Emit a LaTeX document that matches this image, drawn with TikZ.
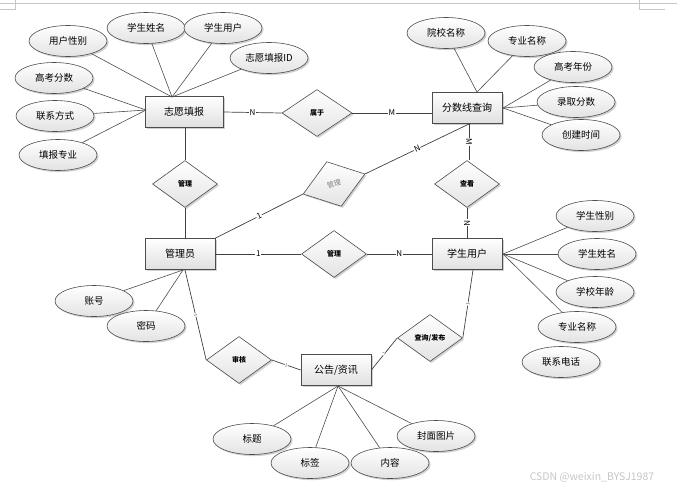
\documentclass[tikz,border=0pt]{standalone}
\usepackage{fontspec}
\setmainfont{Noto Sans CJK SC}
\usetikzlibrary{shapes.geometric,shadows,calc}
\tikzset{
  shd/.style={drop shadow={shadow xshift=1.6pt, shadow yshift=-1.6pt, fill=gray!45, opacity=0.8}},
  ent/.style={rectangle, draw=gray!60!black, line width=0.7pt, top color=white, bottom color=gray!25,
    minimum width=70pt, minimum height=31pt, inner sep=0pt, font=\fontsize{10}{12}\selectfont, shd},
  attr/.style={ellipse, draw=gray!60!black, line width=0.6pt, top color=white, bottom color=gray!22,
    minimum width=78pt, minimum height=31pt, inner sep=0pt, font=\fontsize{9.5}{11}\selectfont, shd},
  rel/.style={diamond, draw=gray!60!black, line width=0.6pt, top color=white, bottom color=gray!22,
    minimum width=65pt, minimum height=47pt, inner sep=0pt, font=\fontsize{7}{8}\selectfont\bfseries, shd},
  ln/.style={draw=black!75, line width=0.7pt},
  aln/.style={draw=black!70, line width=0.6pt},
  lbl/.style={fill=white, inner sep=0.6pt, font=\fontsize{8}{9}\selectfont},
  tiny/.style={fill=white, inner sep=0.3pt, font=\fontsize{4.5}{5}\selectfont, text=gray!70!black},
  page/.style={draw=gray!45, line width=0.6pt}
}
\begin{document}
\begin{tikzpicture}[x=1pt,y=-1pt]
\useasboundingbox (0,0) rectangle (677,490);
% page marks
\draw[draw=gray!45, line width=1.6pt] (0,3.5) -- (677,3.5);
\coordinate (pl1) at (15,0); \coordinate (pl2) at (15,9); \coordinate (pl3) at (0,9);
\draw[page] (pl1) -- (pl2) -- (pl3);
\coordinate (pr1) at (639,0); \coordinate (pr2) at (639,9); \coordinate (pr3) at (665,9);
\draw[page] (pr1) -- (pr2) -- (pr3);

% entities
\node[ent, minimum width=78pt] (zy) at (184,112) {志愿填报};
\node[ent] (fs) at (467,108) {分数线查询};
\node[ent] (gly) at (180,254) {管理员};
\node[ent] (xs) at (467,254) {学生用户};
\node[ent] (gg) at (336,370) {公告/资讯};

% relationships
\node[rel, minimum width=70pt] (sy) at (317,113) {属于};
\node[rel] (gl1) at (185,184) {管理};
\node[rel, rotate=18, font=\fontsize{7}{8}\selectfont, text=gray] (gl2) at (334,184) {管理};
\node[rel] (ck) at (467,184) {查看};
\node[rel] (gl3) at (334,254) {管理};
\node[rel] (sh) at (239,360) {审核};
\node[rel] (cx) at (430,338) {查询/发布};

% attributes of 志愿填报
\node[attr] (a1) at (68,41) {用户性别};
\node[attr] (a2) at (146,28) {学生姓名};
\node[attr] (a3) at (223,28) {学生用户};
\node[attr] (a4) at (269,58) {志愿填报ID};
\node[attr] (a5) at (54,78) {高考分数};
\node[attr] (a6) at (55,116) {联系方式};
\node[attr] (a7) at (58,155) {填报专业};
% attributes of 分数线查询
\node[attr] (b1) at (446,33) {院校名称};
\node[attr] (b2) at (527,41) {专业名称};
\node[attr] (b3) at (573,67) {高考年份};
\node[attr] (b4) at (576,102) {录取分数};
\node[attr] (b5) at (581,135) {创建时间};
% attributes of 学生用户
\node[attr] (c1) at (595,216) {学生性别};
\node[attr] (c2) at (597,254) {学生姓名};
\node[attr] (c3) at (595,292) {学校年龄};
\node[attr] (c4) at (577,327) {专业名称};
\node[attr] (c5) at (561,362) {联系电话};
% attributes of 管理员
\node[attr] (d1) at (94,301) {账号};
\node[attr] (d2) at (146,326) {密码};
% attributes of 公告/资讯
\node[attr] (e1) at (252,439) {标题};
\node[attr] (e2) at (310,463) {标签};
\node[attr] (e3) at (390,463) {内容};
\node[attr] (e4) at (436,436) {封面图片};

% attachment points
\coordinate (zyT) at (172,97);
\coordinate (zyL) at (146,110);
\coordinate (fsT) at (477,92);
\coordinate (fsR) at (503,108);
\coordinate (xsR) at (503,254);
\coordinate (glyB) at (183,270);
\coordinate (ggB) at (338,386);
\coordinate (fsB) at (469,124);
\coordinate (ckT) at (469,160);
\coordinate (glyT) at (185,238);
\coordinate (glyS) at (185,270);
\coordinate (xsB) at (473,270);

% attribute lines
\foreach \a in {a1,a2,a3,a4} \draw[aln] (\a) -- (zyT);
\foreach \a in {a5,a6,a7} \draw[aln] (\a) -- (zyL);
\foreach \a in {b1,b2} \draw[aln] (\a) -- (fsT);
\foreach \a in {b3,b4,b5} \draw[aln] (\a) -- (fsR);
\foreach \a in {c1,c2,c3,c4} \draw[aln] (\a) -- (xsR);
\foreach \a in {d1,d2} \draw[aln] (\a) -- (glyB);
\foreach \a in {e1,e2,e3,e4} \draw[aln] (\a) -- (ggB);

% relationship lines
\draw[ln] (zy.east) -- node[lbl]{N} (sy.west);
\draw[ln] (sy.east) -- node[lbl]{M} (sy.east -| fs.west);
\draw[ln] (zy.south -| gl1.north) -- (gl1.north);
\draw[ln] (gl1.south) -- (glyT);
\draw[ln] (gly.north east) -- node[lbl, sloped]{1} (gl2.west);
\draw[ln] (gl2.east) -- node[lbl, sloped, pos=0.5]{N} (fsB);
\draw[ln] (fsB) -- node[lbl, sloped]{M} (ckT);
\draw[ln] (ck.south) -- node[lbl, sloped]{N} (ck.south |- xs.north);
\draw[ln] (gly.east) -- node[lbl]{1} (gl3.west);
\draw[ln] (gl3.east) -- node[lbl]{N} (xs.west);
\draw[ln] (glyS) -- node[tiny, sloped]{1} (sh.west);
\draw[ln] (sh.east) -- node[tiny, sloped]{1} (gg.west);
\draw[ln] (gg.east) -- node[tiny, sloped]{1} (cx.west);
\draw[ln] (cx.east) -- node[tiny, sloped]{1} (xsB);

% watermark
\node[text=gray!45, font=\fontsize{10.5}{12}\selectfont, inner sep=0pt] (wm) at (592,477) {CSDN @weixin\_BYSJ1987};
\end{tikzpicture}
\end{document}
